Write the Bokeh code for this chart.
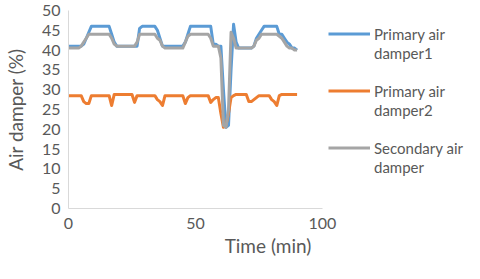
from bokeh.plotting import figure
from bokeh.models import Range1d, Legend, LegendItem, FixedTicker
from bokeh.embed import file_html
from bokeh.resources import INLINE

# ---- data ----
time_min = list(range(0, 91))

primary_air_damper1 = (
    [41, 41, 41, 41, 41, 41, 41.5, 43, 44.5, 46]            # 0-9
    + [46] * 7 + [44, 42, 41]                               # 10-19
    + [41] * 8 + [45.5]                                     # 20-28
    + [46] * 6 + [45, 43, 41]                               # 29-37
    + [41] * 8 + [42, 44, 46]                               # 38-48
    + [46] * 8 + [41.5, 41.5, 41, 41, 30, 20.5, 21, 35, 46.5, 42]  # 49-66
    + [40.5] * 6 + [41, 43, 44, 45, 46]                     # 67-77
    + [46] * 5 + [44, 44, 43, 42, 41.5, 40.5, 40.5, 40]     # 78-90
)

primary_air_damper2 = (
    [28.5] * 6 + [27, 26.5, 26.5, 28.5]                     # 0-9
    + [28.5] * 7 + [26, 28.8]                               # 10-18
    + [28.8] * 7 + [26.8, 28.5]                             # 19-27
    + [28.5] * 7 + [27.5, 27, 26, 28.5]                     # 28-38
    + [28.5] * 7 + [26.5, 28, 28.5]                         # 39-48
    + [28.5] * 7 + [26.8, 27.5, 28, 28, 24, 20.5, 21, 24, 28, 28.5]  # 49-65
    + [28.8] * 5 + [27, 27, 27.5, 28, 28.5]                 # 66-75
    + [28.5] * 4 + [27.5, 27, 26, 28.5, 28.8]               # 76-84
    + [28.8] * 6                                            # 85-90
)

secondary_air_damper = (
    [40.5] * 5 + [41, 42, 43, 44]                           # 0-8
    + [44] * 8 + [43, 41.5]                                 # 9-18
    + [41] * 8 + [42, 44]                                   # 19-28
    + [44] * 6 + [43, 42.5, 41, 40.5]                       # 29-38
    + [40.5] * 7 + [42, 43.5, 44]                           # 39-48
    + [44] * 7 + [43, 41, 41, 41, 38, 21, 20.5, 25, 44.5, 43, 40.5]  # 49-66
    + [40.5] * 6 + [41, 42.5, 43, 44]                       # 67-76
    + [44] * 6 + [43.5, 43, 42, 41, 40.5, 40.5, 40, 40]     # 77-90
)

series_names = ["Primary air damper1", "Primary air damper2", "Secondary air damper"]
series_values = [primary_air_damper1, primary_air_damper2, secondary_air_damper]
series_colors = ["#5B9BD5", "#ED7D31", "#A5A5A5"]

x_ticks = [0, 50, 100]
y_ticks = list(range(0, 55, 5))

for s in series_values:
    assert len(s) == len(time_min), len(s)

# ---- figure ----
TEXT = "#595959"
FONT = "Lato"

p = figure(
    frame_width=399, frame_height=198,
    min_border_left=65, min_border_right=0, min_border_top=10, min_border_bottom=55,
    x_range=Range1d(0, 157.1), y_range=Range1d(0, 50),
    output_backend="svg", toolbar_location=None,
    background_fill_color="white", border_fill_color="white",
)
p.outline_line_color = None
p.grid.visible = False

renderers = []
for name, vals, col in zip(series_names, series_values, series_colors):
    r = p.line(time_min, vals, line_color=col, line_width=3, line_join="round")
    renderers.append(r)

dummy = p.line(x=[], y=[], line_alpha=0)

# axes
p.xaxis.bounds = (0, 100)
p.xaxis.ticker = FixedTicker(ticks=x_ticks)
p.yaxis.ticker = FixedTicker(ticks=y_ticks)
for ax in (p.xaxis[0], p.yaxis[0]):
    ax.axis_line_color = "#D9D9D9"
    ax.axis_line_width = 1
    ax.major_tick_line_color = None
    ax.minor_tick_line_color = None
    ax.major_tick_out = 0
    ax.major_tick_in = 0
    ax.major_label_text_color = TEXT
    ax.major_label_text_font = FONT
    ax.major_label_text_font_size = "16px"
    ax.axis_label_text_color = TEXT
    ax.axis_label_text_font = FONT
    ax.axis_label_text_font_size = "19px"
    ax.axis_label_text_font_style = "normal"

p.xaxis.axis_label = "Time (min)"
p.yaxis.axis_label = "Air damper (%)"
p.xaxis.major_label_standoff = 9
p.xaxis.axis_label_standoff = 2
p.yaxis.major_label_standoff = 8
p.yaxis.axis_label_standoff = 12

# legend (two-line labels as separate rows)
items = []
for i, (name, r) in enumerate(zip(series_names, renderers)):
    first, second = name.rsplit(" ", 1)
    items.append(LegendItem(label=first, renderers=[r]))
    items.append(LegendItem(label=second, renderers=[dummy]))
    if i < len(series_names) - 1:
        items.append(LegendItem(label=" ", renderers=[dummy]))

legend = Legend(
    items=items, location=(260, 32),
    glyph_width=42, glyph_height=19, label_height=19, label_standoff=4,
    spacing=0, padding=0, margin=0,
    border_line_color=None, background_fill_alpha=0,
    label_text_font=FONT, label_text_font_size="15px", label_text_color=TEXT,
)
p.add_layout(legend, "center")

open("out.html", "w").write(file_html(p, INLINE))
